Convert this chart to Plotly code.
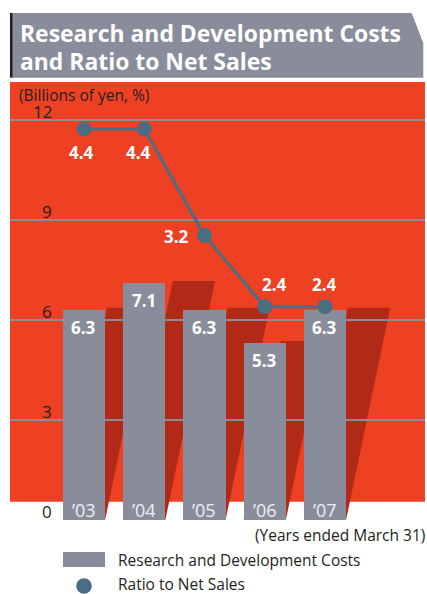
import plotly.graph_objects as go

# Fiscal years (ended March 31)
years = ["’03", "’04", "’05", "’06", "’07"]
# Research and development costs, billions of yen
rd_costs = [6.3, 7.1, 6.3, 5.3, 6.3]
# Ratio to net sales, %
ratio = [4.4, 4.4, 3.2, 2.4, 2.4]
y_ticks = [0, 3, 6, 9, 12]

# label placement around each ratio marker: (xshift, yshift) in px
ratio_label_offsets = [(-2, -24), (-6, -24), (-28, -1), (10, 22), (0, 22)]

RED = "#ee4124"
SHADOW = "#b02a17"
GRAY = "#898d9b"
LINE = "#4a6d82"
GRID = "#8e8b98"
FONT = "Open Sans"

W, H = 427, 594
L, R, T, B = 10, 2, 82, 74
PW, PH = W - L - R, H - T - B


def px(x):
    return (x - L) / PW


def py(y):
    return (H - B - y) / PH


xs = list(range(len(years)))
X_RANGE = [-1.228, 5.66]
Y_MAX = 13.14
Y2_MAX = Y_MAX * 4.5 / 12
BAR_W = 0.7
SKEW = 0.1162  # horizontal lean of the bar shadows per unit of height

fig = go.Figure()

fig.add_trace(go.Bar(
    x=xs, y=rd_costs, width=BAR_W,
    marker=dict(color=GRAY, line=dict(width=0)),
    hoverinfo="skip", showlegend=False,
))

fig.add_trace(go.Scatter(
    x=xs, y=ratio, yaxis="y2", mode="lines+markers",
    line=dict(color=LINE, width=3),
    marker=dict(color=LINE, size=15),
    hoverinfo="skip", showlegend=False,
))

shapes = []
# red backdrop
shapes.append(dict(type="rect", xref="paper", yref="paper",
                   x0=0, x1=1, y0=py(501.7), y1=1,
                   fillcolor=RED, line=dict(width=0), layer="below"))
# slanted shadows behind the bars
for i, v in enumerate(rd_costs):
    s = SKEW * v
    top = v + 0.07
    path = (f"M {i - BAR_W / 2},0 L {i + BAR_W / 2},0 "
            f"L {i + BAR_W / 2 + s},{top} L {i - BAR_W / 2 + s},{top} Z")
    shapes.append(dict(type="path", xref="x", yref="y", path=path,
                       fillcolor=SHADOW, line=dict(width=0), layer="below"))

# title banner
banner = [(12.7, 13), (411.7, 13), (423.3, 43.3), (423.3, 77.7), (12.7, 77.7)]
bpath = "M " + " L ".join(f"{px(a)},{py(b)}" for a, b in banner) + " Z"
shapes.append(dict(type="path", xref="paper", yref="paper", path=bpath,
                   fillcolor=GRAY, line=dict(width=0)))
shapes.append(dict(type="rect", xref="paper", yref="paper",
                   x0=px(10), x1=px(12.7), y0=py(77.7), y1=py(13),
                   fillcolor="#231f20", line=dict(width=0)))

# legend swatches
shapes.append(dict(type="rect", xref="paper", yref="paper",
                   x0=px(63), x1=px(105), y0=py(567), y1=py(552),
                   fillcolor=GRAY, line=dict(width=0)))
shapes.append(dict(type="circle", xref="paper", yref="paper",
                   x0=px(76.2), x1=px(91.8), y0=py(593.8), y1=py(578.2),
                   fillcolor=LINE, line=dict(width=0)))

ann = []
# title
ann.append(dict(text="<b>Research and Development Costs</b>", xref="paper", yref="paper",
                x=px(18), y=py(33.5), xanchor="left", yanchor="middle", showarrow=False,
                font=dict(family=FONT, size=22.9, color="white")))
ann.append(dict(text="<b>and Ratio to Net Sales</b>", xref="paper", yref="paper",
                x=px(18), y=py(62), xanchor="left", yanchor="middle", showarrow=False,
                font=dict(family=FONT, size=22.9, color="white")))
# unit note
ann.append(dict(text="(Billions of yen, %)", xref="paper", yref="paper",
                x=px(18), y=py(94.5), xanchor="left", yanchor="middle", showarrow=False,
                borderpad=0,
                font=dict(family=FONT, size=15.5, color="#231f20")))
# y tick labels sitting just above the grid lines
for t in y_ticks:
    ann.append(dict(text=str(t), xref="paper", yref="y", x=px(53), y=t,
                    xanchor="right", yanchor="middle", yshift=9, showarrow=False,
                    borderpad=0,
                    font=dict(family=FONT, size=17, color="#231f20")))
# bar values
for i, v in enumerate(rd_costs):
    ann.append(dict(text=f"<b>{v}</b>", xref="x", yref="y", x=i, y=v,
                    xanchor="center", yanchor="middle", yshift=-17, showarrow=False,
                    font=dict(family=FONT, size=17, color="white")))
# year labels inside the bar feet
for i, lab in enumerate(years):
    ann.append(dict(text=lab, xref="x", yref="y", x=i, y=0,
                    xanchor="center", yanchor="middle", yshift=10, showarrow=False,
                    font=dict(family=FONT, size=18, color="#eeeef2")))
# ratio values
for i, (v, (dx, dy)) in enumerate(zip(ratio, ratio_label_offsets)):
    ann.append(dict(text=f"<b>{v}</b>", xref="x", yref="y2", x=i, y=v,
                    xanchor="center", yanchor="middle", xshift=dx, yshift=dy,
                    showarrow=False,
                    font=dict(family=FONT, size=17, color="white")))
# footnote and legend labels
ann.append(dict(text="(Years ended March 31)", xref="paper", yref="paper",
                x=px(426.5), y=py(535), xanchor="right", yanchor="middle", showarrow=False,
                font=dict(family=FONT, size=15.5, color="#231f20")))
ann.append(dict(text="Research and Development Costs", xref="paper", yref="paper",
                x=px(116), y=py(560), xanchor="left", yanchor="middle", showarrow=False,
                font=dict(family=FONT, size=15.5, color="#231f20")))
ann.append(dict(text="Ratio to Net Sales", xref="paper", yref="paper",
                x=px(116), y=py(584), xanchor="left", yanchor="middle", showarrow=False,
                font=dict(family=FONT, size=15.5, color="#231f20")))

fig.update_layout(
    width=W, height=H,
    margin=dict(l=L, r=R, t=T, b=B, pad=0),
    paper_bgcolor="white", plot_bgcolor="rgba(0,0,0,0)",
    showlegend=False, bargap=0,
    xaxis=dict(range=X_RANGE, showgrid=False, zeroline=False, showline=False,
               showticklabels=False, ticks="", fixedrange=True),
    yaxis=dict(range=[0, Y_MAX], tickvals=[t for t in y_ticks if t > 0],
               showgrid=True, gridcolor=GRID, gridwidth=1.5, zeroline=False,
               showline=False, showticklabels=False, ticks="", fixedrange=True),
    yaxis2=dict(range=[0, Y2_MAX], overlaying="y", visible=False, fixedrange=True),
    shapes=shapes, annotations=ann,
)

fig.write_html("out.html")
